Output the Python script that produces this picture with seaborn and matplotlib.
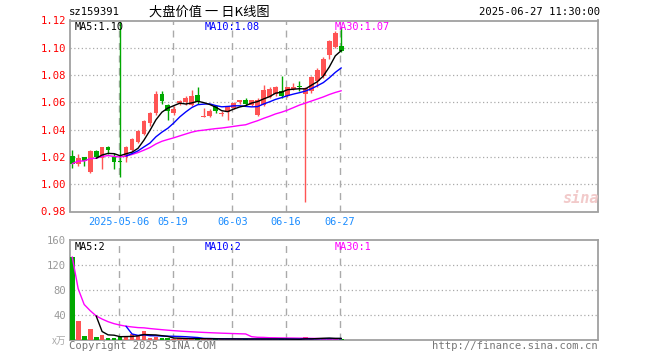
import numpy as np
import pandas as pd
import matplotlib
matplotlib.use("Agg")
import matplotlib.pyplot as plt
import seaborn as sns

# ---------------- data ----------------
dates = ["04-21", "04-22", "04-23", "04-24", "04-25", "04-28", "04-29", "04-30",
         "05-06", "05-07", "05-08", "05-09", "05-12", "05-13", "05-14", "05-15",
         "05-16", "05-19", "05-20", "05-21", "05-22", "05-23", "05-26", "05-27",
         "05-28", "05-29", "05-30", "06-03", "06-04", "06-05", "06-06", "06-09",
         "06-10", "06-11", "06-12", "06-13", "06-16", "06-17", "06-18", "06-19",
         "06-20", "06-23", "06-24", "06-25", "06-26", "06-27"]
opens = [1.021, 1.015, 1.020, 1.009, 1.024, 1.019, 1.027, 1.020,
         1.0172, 1.020, 1.025, 1.031, 1.037, 1.045, 1.052, 1.066,
         1.058, 1.052, 1.0595, 1.060, 1.058, 1.0655, 1.0495, 1.050,
         1.057, 1.0515, 1.053, 1.056, 1.060, 1.0618, 1.0577, 1.051,
         1.058, 1.064, 1.066, 1.068, 1.065, 1.0705, 1.0722, 1.066,
         1.068, 1.076, 1.079, 1.095, 1.1005, 1.101]
highs = [1.025, 1.022, 1.020, 1.025, 1.025, 1.027, 1.028, 1.023,
         1.121, 1.028, 1.034, 1.040, 1.047, 1.053, 1.068, 1.068,
         1.059, 1.057, 1.062, 1.065, 1.069, 1.071, 1.056, 1.055,
         1.058, 1.054, 1.057, 1.060, 1.062, 1.063, 1.062, 1.063,
         1.073, 1.071, 1.072, 1.079, 1.071, 1.074, 1.076, 1.071,
         1.079, 1.085, 1.093, 1.106, 1.112, 1.115]
lows = [1.012, 1.013, 1.013, 1.008, 1.019, 1.011, 1.022, 1.011,
        1.005, 1.016, 1.024, 1.030, 1.036, 1.043, 1.051, 1.059,
        1.047, 1.051, 1.058, 1.058, 1.057, 1.0585, 1.049, 1.049,
        1.052, 1.050, 1.047, 1.055, 1.059, 1.057, 1.057, 1.050,
        1.057, 1.063, 1.065, 1.063, 1.064, 1.069, 1.068, 0.987,
        1.067, 1.0716, 1.078, 1.092, 1.100, 1.097]
closes = [1.015, 1.019, 1.017, 1.024, 1.020, 1.027, 1.025, 1.016,
          1.0165, 1.027, 1.033, 1.039, 1.046, 1.052, 1.066, 1.061,
          1.054, 1.055, 1.061, 1.063, 1.065, 1.060, 1.0500, 1.054,
          1.0535, 1.0520, 1.0565, 1.0594, 1.0616, 1.0585, 1.0614, 1.062,
          1.069, 1.070, 1.0712, 1.065, 1.071, 1.0710, 1.0718, 1.0705,
          1.0785, 1.084, 1.092, 1.105, 1.111, 1.098]
volumes = [133, 31, 6.5, 17.5, 5, 8, 4, 4,
           5.5, 6, 9, 8.5, 15, 3.5, 4.5, 3,
           2.5, 2, 2.5, 2, 2.5, 2, 1.5, 2,
           1.5, 1.5, 2, 1.5, 1.5, 1.5, 1.5, 2,
           1.5, 1.5, 1.5, 1.5, 1.2, 1, 1, 4.5,
           1.5, 3.5, 3.5, 2.5, 2, 1.5]
tick_dates = ["05-06", "05-19", "06-03", "06-16", "06-27"]
tick_labels = ["2025-05-06", "05-19", "06-03", "06-16", "06-27"]
price_ticks = [0.98, 1.00, 1.02, 1.04, 1.06, 1.08, 1.10, 1.12]
vol_ticks = [40, 80, 120, 160]
price_ma_labels = ["MA5:1.10", "MA10:1.08", "MA30:1.07"]
vol_ma_labels = ["MA5:2", "MA10:2", "MA30:1"]

# ---------------- styling ----------------
sns.set_style("white")
plt.rcParams['font.family'] = ['DejaVu Sans Mono', 'Noto Sans CJK SC']

RED = "#ff5454"
GREEN = "#00a800"
GRID = "#aaaaaa"
BORDER = "#a0a0a0"
MONO = ['DejaVu Sans Mono', 'Noto Sans CJK SC']
CJK = ['Noto Sans CJK SC', 'DejaVu Sans']

W, H = 660, 360
fig = plt.figure(figsize=(6.6, 3.6), dpi=100)
fig.patch.set_facecolor("white")

def fx(px):
    return px / W

def fy(py):
    return 1 - py / H

L_PX, R_PX = 70, 598
ax1 = fig.add_axes([fx(L_PX), fy(211.5), (R_PX - L_PX) / W, (211.5 - 20.5) / H])
ax2 = fig.add_axes([fx(L_PX), fy(340), (R_PX - L_PX) / W, 100 / H])

df = pd.DataFrame({"date": dates, "open": opens, "high": highs, "low": lows,
                   "close": closes, "vol": volumes})
df["x"] = np.arange(len(df))
df["up"] = df["close"] >= df["open"]
df["color"] = np.where(df["up"], RED, GREEN)
df["ma5"] = df["close"].rolling(5, min_periods=5).mean()
df["ma10"] = df["close"].rolling(10, min_periods=10).mean()
df["ma30"] = df["close"].rolling(30, min_periods=1).mean()
df["vma5"] = df["vol"].rolling(5, min_periods=5).mean()
df["vma10"] = df["vol"].rolling(10, min_periods=10).mean()
df["vma30"] = df["vol"].rolling(30, min_periods=1).mean()

spacing = 5.98
x_left = -(72.2 - L_PX) / spacing
x_right = x_left + (R_PX - L_PX) / spacing
tick_pos = [dates.index(d) - 0.22 for d in tick_dates]

for ax in (ax1, ax2):
    ax.set_xlim(x_left, x_right)
    for s in ax.spines.values():
        s.set_color(BORDER)
        s.set_linewidth(1.3)
    for tp in tick_pos:
        ax.axvline(tp, color=GRID, lw=1.0, ls=(0, (5, 4)), zorder=0)
    ax.tick_params(length=0)

# ---------- price panel ----------
ax1.set_ylim(0.98, 1.12)
ax1.set_yticks(price_ticks)
ax1.set_yticklabels([f"{t:.2f}" for t in price_ticks], color="#ff0000",
                    fontsize=7.6, family=MONO)
for t in price_ticks[1:-1]:
    ax1.axhline(t, color=GRID, lw=0.9, ls=(0, (1, 2)), zorder=0)
ax1.set_xticks(tick_pos)
ax1.set_xticklabels(tick_labels, color="#1a8cff", fontsize=7.4, family=MONO)
ax1.tick_params(axis="x", pad=4)
ax1.tick_params(axis="y", pad=3)

ax1.vlines(df["x"], df["low"], df["high"], colors=df["color"], lw=1.0, zorder=2)
body_h = np.maximum((df["close"] - df["open"]).abs(), 0.0008)
body_b = np.minimum(df["open"], df["close"]) - np.where(
    (df["close"] - df["open"]).abs() < 0.0008, 0.0004, 0)
ax1.bar(df["x"], body_h, bottom=body_b, width=0.8, color=df["color"],
        linewidth=0, zorder=3)

sns.lineplot(data=df, x="x", y="ma30", ax=ax1, color="#ff00ff", lw=1.0, zorder=4)
sns.lineplot(data=df, x="x", y="ma10", ax=ax1, color="#0000ff", lw=1.0, zorder=4)
sns.lineplot(data=df, x="x", y="ma5", ax=ax1, color="black", lw=1.0, zorder=5)
ax1.set_xlabel("")
ax1.set_ylabel("")

ma_cols = ["black", "#0000ff", "#ff00ff"]
ma_x = [75, 205, 335]
for lab, c, px in zip(price_ma_labels, ma_cols, ma_x):
    fig.text(fx(px), fy(27), lab, color=c, fontsize=7.4, family=MONO,
             va="center", ha="left")

fig.text(fx(581), fy(198), "sina", color="#f2caca", fontsize=11,
         fontweight="bold", style="italic", ha="center", va="center")

# ---------- volume panel ----------
ax2.set_ylim(0, 160)
ax2.set_yticks(vol_ticks)
ax2.set_yticklabels([str(v) for v in vol_ticks], color="#999999",
                    fontsize=7.6, family=MONO)
ax2.tick_params(axis="y", pad=3)
ax2.set_xticks([])
for t in vol_ticks[:-1]:
    ax2.axhline(t, color=GRID, lw=0.9, ls=(0, (1, 2)), zorder=0)

ax2.bar(df["x"], df["vol"], width=0.8, color=df["color"], linewidth=0, zorder=3)
sns.lineplot(data=df, x="x", y="vma30", ax=ax2, color="#ff00ff", lw=1.0, zorder=4)
sns.lineplot(data=df, x="x", y="vma10", ax=ax2, color="#0000ff", lw=1.0, zorder=4)
sns.lineplot(data=df, x="x", y="vma5", ax=ax2, color="black", lw=1.0, zorder=5)
ax2.set_xlabel("")
ax2.set_ylabel("")

for lab, c, px in zip(vol_ma_labels, ma_cols, ma_x):
    fig.text(fx(px), fy(247), lab, color=c, fontsize=7.4, family=MONO,
             va="center", ha="left")

fig.text(fx(66), fy(341), "x万", color="#aaaaaa", fontsize=7, family=CJK,
         ha="right", va="center")

# ---------- header / footer ----------
fig.text(fx(69), fy(12), "sz159391", color="black", fontsize=7.6, family=MONO,
         ha="left", va="center")
fig.text(fx(149), fy(12), "大盘价值 一 日K线图", color="black", fontsize=9.5,
         family=CJK, ha="left", va="center")
fig.text(fx(600), fy(12), "2025-06-27 11:30:00", color="black", fontsize=7.6,
         family=MONO, ha="right", va="center")
fig.text(fx(69), fy(346), "Copyright 2025 SINA.COM", color="#777777",
         fontsize=7.6, family=MONO, ha="left", va="center")
fig.text(fx(598), fy(346), "http://finance.sina.com.cn", color="#777777",
         fontsize=7.6, family=MONO, ha="right", va="center")

fig.savefig("out.png", dpi=100, facecolor="white")
